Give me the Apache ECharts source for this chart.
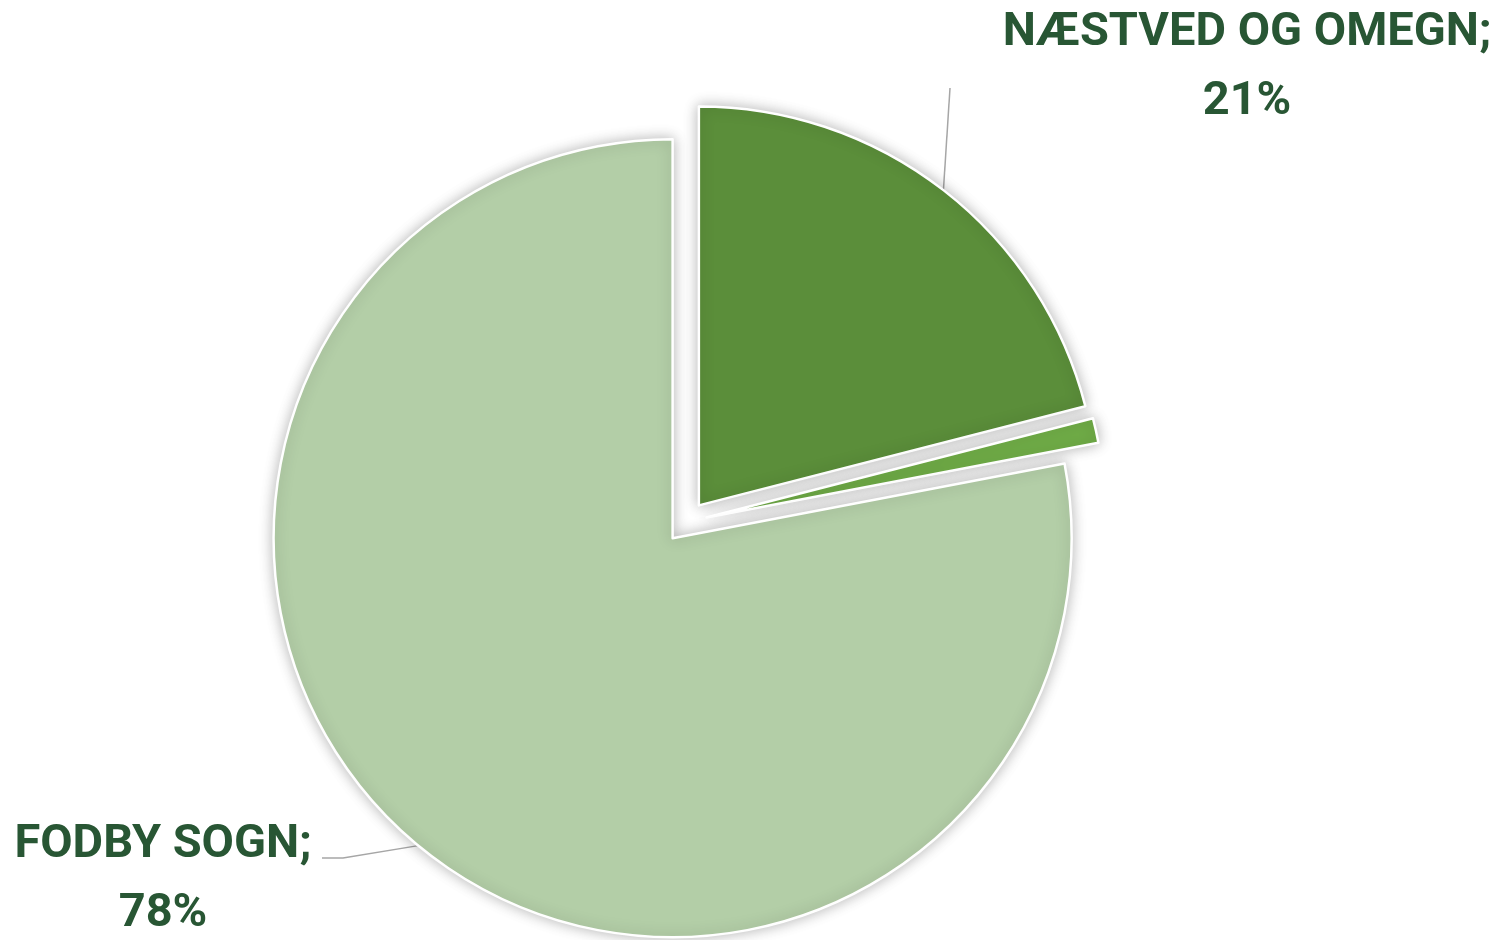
<!DOCTYPE html>
<html>
<head>
<meta charset="utf-8">
<script src="https://cdn.jsdelivr.net/npm/echarts@6/dist/echarts.min.js"></script>
<style>
html,body{margin:0;padding:0;background:#fff;}
#chart{width:1501px;height:940px;}
</style>
</head>
<body>
<div id="chart"></div>
<script>
// ---- data ----
const categories = ['NÆSTVED OG OMEGN', 'ANDET', 'FODBY SOGN'];
const values = [21, 1, 78];
const showLabel = [true, false, true];

// ---- styles / layout ----
const palette = ['#5B8E3A', '#70AD47', '#B3CEA7'];
const textColor = '#285634';
const CENTER = [686, 522];
const RADIUS = 399;
const EXPLODE = 21;
const labelAnchors = {
  0: { x: 1247, y: 68, tail: [[950, 88]] },
  2: { x: 163, y: 880, tail: [[343, 858], [322, 858]] }
};

const total = values.reduce((a, b) => a + b, 0);
function midDir(idx) {
  let before = 0;
  for (let i = 0; i < idx; i++) before += values[i];
  const mid = (before + values[idx] / 2) / total * 2 * Math.PI; // clockwise from top
  return [Math.sin(mid), -Math.cos(mid)];
}
function explodedCenter(idx) {
  const d = midDir(idx);
  return [CENTER[0] + EXPLODE * d[0], CENTER[1] + EXPLODE * d[1]];
}
function edgePoint(idx) {
  const d = midDir(idx);
  const c = explodedCenter(idx);
  return [c[0] + RADIUS * d[0], c[1] + RADIUS * d[1]];
}

// one pie series per slice so each slice is exploded along its own bisector
const series = categories.map((cat, k) => ({
  type: 'pie',
  name: cat,
  center: explodedCenter(k),
  radius: RADIUS,
  startAngle: 90,
  clockwise: true,
  silent: true,
  avoidLabelOverlap: false,
  label: {
    show: true,
    formatter: p => p.name + ';\n' + Math.round(p.percent) + '%',
    fontFamily: 'Roboto',
    fontWeight: 'bold',
    fontSize: 47,
    lineHeight: 69,
    color: textColor,
    align: 'center'
  },
  labelLine: {
    show: true,
    lineStyle: { color: '#A6A6A6', width: 1.5 }
  },
  labelLayout: function (params) {
    const a = labelAnchors[params.dataIndex];
    if (!a || params.dataIndex !== k) return {};
    return {
      x: a.x,
      y: a.y,
      align: 'center',
      verticalAlign: 'middle',
      labelLinePoints: [edgePoint(k)].concat(a.tail)
    };
  },
  data: categories.map((c, i) => {
    const visible = i === k;
    return {
      name: c,
      value: values[i],
      itemStyle: visible ? {
        color: palette[i],
        borderColor: '#ffffff',
        borderWidth: 2.5,
        shadowBlur: 14,
        shadowColor: 'rgba(0,0,0,0.28)'
      } : { color: 'transparent', borderWidth: 0, shadowBlur: 0 },
      label: { show: visible && showLabel[i] },
      labelLine: { show: visible && showLabel[i] }
    };
  })
}));

const chart = echarts.init(document.getElementById('chart'), null, { renderer: 'canvas' });
chart.setOption({
  animation: false,
  backgroundColor: '#ffffff',
  series: series
});
</script>
</body>
</html>
